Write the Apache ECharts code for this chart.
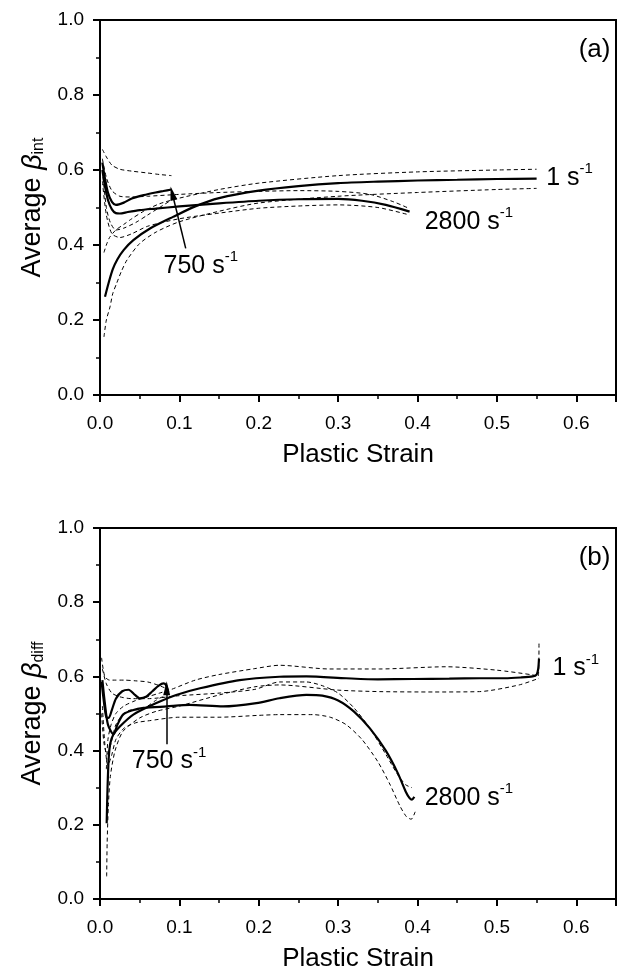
<!DOCTYPE html>
<html><head><meta charset="utf-8">
<script src="https://cdn.jsdelivr.net/npm/echarts@6/dist/echarts.min.js"></script>
<style>html,body{margin:0;padding:0;background:#fff}#c{width:619px;height:973px}</style>
</head><body><div id="c"></div>
<script>
// ---------- Panel (a): Average beta_int ----------
const a1sX = [0.0063,0.011,0.016,0.022,0.03,0.042,0.063,0.092,0.12,0.15,0.2,0.25,0.3,0.35,0.4,0.45,0.5,0.55];
const a1sY = [0.262,0.3,0.335,0.362,0.387,0.413,0.444,0.475,0.503,0.525,0.545,0.557,0.565,0.569,0.572,0.574,0.576,0.577];
const a1uX = [0.005,0.008,0.012,0.02,0.03,0.04,0.055,0.075,0.1,0.15,0.2,0.3,0.4,0.5,0.55];
const a1uY = [0.38,0.4,0.42,0.44,0.455,0.47,0.49,0.51,0.525,0.548,0.565,0.585,0.595,0.6,0.602];
const a1lX = [0.005,0.008,0.0126,0.016,0.021,0.027,0.034,0.05,0.071,0.10,0.15,0.2,0.3,0.4,0.5,0.55];
const a1lY = [0.155,0.2,0.235,0.27,0.298,0.33,0.36,0.404,0.435,0.462,0.49,0.512,0.53,0.54,0.548,0.551];

const a2sX = [0.003,0.006,0.01,0.015,0.02,0.025,0.035,0.05,0.07,0.1,0.15,0.2,0.25,0.3,0.33,0.36,0.39];
const a2sY = [0.6,0.56,0.52,0.495,0.485,0.484,0.488,0.493,0.497,0.503,0.511,0.518,0.522,0.523,0.518,0.507,0.489];
const a2uX = [0.003,0.008,0.015,0.025,0.04,0.06,0.1,0.15,0.2,0.25,0.3,0.34,0.37,0.39];
const a2uY = [0.63,0.58,0.545,0.53,0.528,0.53,0.535,0.54,0.543,0.545,0.543,0.535,0.515,0.497];
const a2lX = [0.003,0.008,0.015,0.025,0.04,0.06,0.1,0.15,0.2,0.25,0.3,0.35,0.39];
const a2lY = [0.57,0.48,0.43,0.42,0.43,0.45,0.47,0.485,0.498,0.504,0.507,0.5,0.48];

const a3sX = [0.003,0.006,0.01,0.015,0.02,0.03,0.04,0.055,0.07,0.08,0.09];
const a3sY = [0.62,0.58,0.54,0.515,0.507,0.513,0.524,0.533,0.54,0.544,0.548];
const a3uX = [0.003,0.008,0.015,0.025,0.04,0.06,0.075,0.09];
const a3uY = [0.655,0.635,0.613,0.602,0.597,0.592,0.588,0.585];
const a3lX = [0.003,0.008,0.013,0.02,0.03,0.045,0.06,0.075,0.09];
const a3lY = [0.6,0.5,0.46,0.44,0.445,0.46,0.48,0.5,0.52];

// ---------- Panel (b): Average beta_diff ----------
const b1sX = [0.0084,0.0095,0.011,0.013,0.017,0.025,0.042,0.071,0.096,0.126,0.176,0.226,0.26,0.31,0.35,0.394,0.44,0.478,0.51,0.53,0.545,0.55,0.552,0.553];
const b1sY = [0.204,0.3,0.381,0.42,0.444,0.465,0.497,0.528,0.55,0.568,0.59,0.599,0.6,0.595,0.592,0.593,0.594,0.595,0.595,0.597,0.6,0.605,0.62,0.648];
const b1uX = [0.008,0.01,0.014,0.02,0.03,0.045,0.06,0.075,0.09,0.12,0.15,0.195,0.226,0.289,0.352,0.436,0.499,0.545,0.552,0.553];
const b1uY = [0.35,0.43,0.47,0.5,0.52,0.535,0.545,0.555,0.565,0.59,0.605,0.621,0.63,0.62,0.62,0.626,0.617,0.604,0.6,0.693];
const b1lX = [0.0084,0.009,0.0105,0.013,0.019,0.029,0.05,0.071,0.1,0.15,0.195,0.226,0.3,0.352,0.42,0.478,0.528,0.553];
const b1lY = [0.061,0.15,0.25,0.33,0.4,0.452,0.488,0.506,0.52,0.55,0.572,0.577,0.563,0.559,0.558,0.559,0.577,0.595];

const b2sX = [0.003,0.006,0.01,0.017,0.022,0.029,0.04,0.055,0.084,0.113,0.155,0.197,0.226,0.26,0.28,0.30,0.32,0.34,0.36,0.375,0.385,0.39,0.393,0.396];
const b2sY = [0.59,0.53,0.47,0.444,0.47,0.497,0.508,0.515,0.519,0.523,0.519,0.528,0.541,0.55,0.548,0.535,0.505,0.46,0.4,0.34,0.29,0.272,0.268,0.275];
const b2uX = [0.003,0.008,0.015,0.025,0.04,0.06,0.1,0.15,0.195,0.226,0.26,0.28,0.30,0.32,0.34,0.36,0.375,0.385,0.393];
const b2uY = [0.62,0.58,0.555,0.545,0.54,0.54,0.548,0.555,0.565,0.585,0.585,0.575,0.555,0.515,0.46,0.39,0.335,0.308,0.3];
const b2lX = [0.003,0.006,0.01,0.015,0.02,0.03,0.045,0.06,0.1,0.15,0.2,0.226,0.268,0.29,0.31,0.33,0.35,0.365,0.378,0.386,0.392,0.397];
const b2lY = [0.52,0.42,0.36,0.39,0.43,0.46,0.475,0.48,0.49,0.49,0.495,0.497,0.497,0.49,0.47,0.43,0.37,0.31,0.25,0.222,0.215,0.235];

const b3sX = [0.002,0.005,0.008,0.011,0.015,0.02,0.028,0.036,0.044,0.05,0.058,0.066,0.074,0.08,0.083,0.086];
const b3sY = [0.585,0.53,0.49,0.488,0.51,0.54,0.56,0.564,0.55,0.541,0.545,0.56,0.575,0.581,0.577,0.558];
const b3uX = [0.002,0.006,0.012,0.02,0.03,0.045,0.06,0.075,0.086];
const b3uY = [0.65,0.6,0.59,0.59,0.59,0.588,0.585,0.575,0.565];
const b3lX = [0.002,0.005,0.009,0.014,0.02,0.03,0.04,0.05,0.06,0.07,0.08,0.086];
const b3lY = [0.5,0.42,0.39,0.42,0.47,0.5,0.51,0.51,0.52,0.535,0.545,0.54];

// tick labels / axis ranges
const xTicks = [0.0,0.1,0.2,0.3,0.4,0.5,0.6];
const yTicks = [0.0,0.2,0.4,0.6,0.8,1.0];
const xTitle = 'Plastic Strain';
const yTitleA = ['Average ', 'β', 'int'];
const yTitleB = ['Average ', 'β', 'diff'];

// annotations [x, y, text, sup]
const labelsA = [[0.562,0.584,'1 s','-1'],[0.409,0.467,'2800 s','-1'],[0.080,0.349,'750 s','-1']];
const labelsB = [[0.570,0.627,'1 s','-1'],[0.409,0.277,'2800 s','-1'],[0.040,0.376,'750 s','-1']];
const arrowA = [[0.108,0.391],[0.091,0.538]];
const arrowB = [[0.084,0.417],[0.084,0.568]];
const panelTags = ['(a)','(b)'];

const zip = (xs, ys) => xs.map((x,i)=>[x, ys[i]]);
const FONT = 'Liberation Sans, Arial, sans-serif';

function mkX(gi){
  return {gridIndex:gi, type:'value', min:0, max:0.65, interval:0.1,
    axisLine:{show:true, lineStyle:{color:'#000', width:2}},
    axisTick:{show:true, inside:false, length:7, lineStyle:{color:'#000', width:2}},
    minorTick:{show:true, splitNumber:2, length:4, lineStyle:{color:'#000', width:1.5}},
    splitLine:{show:false},
    axisLabel:{color:'#000', fontFamily:FONT, fontSize:19, margin:19,
      formatter:v => xTicks.some(t=>Math.abs(t-v)<1e-9) ? v.toFixed(1) : ''},
    name:xTitle, nameLocation:'middle', nameGap:47,
    nameTextStyle:{color:'#000', fontFamily:FONT, fontSize:26}};
}
function mkY(gi){
  return {gridIndex:gi, type:'value', min:0, max:1, interval:0.2,
    axisLine:{show:true, lineStyle:{color:'#000', width:2}},
    axisTick:{show:true, inside:false, length:7, lineStyle:{color:'#000', width:2}},
    minorTick:{show:true, splitNumber:2, length:4, lineStyle:{color:'#000', width:1.5}},
    splitLine:{show:false},
    axisLabel:{color:'#000', fontFamily:FONT, fontSize:19, margin:16,
      formatter:v => yTicks.some(t=>Math.abs(t-v)<1e-9) ? v.toFixed(1) : ''}};
}
function line(gi, xs, ys, dashed){
  return {type:'line', xAxisIndex:gi, yAxisIndex:gi, data:zip(xs,ys), showSymbol:false,
    smooth:0.25, silent:true,
    lineStyle: dashed ? {color:'#000', width:1, type:[4,3]} : {color:'#000', width:2.2}};
}
function arrowSeries(gi, arr){
  return {type:'line', xAxisIndex:gi, yAxisIndex:gi, data:[], silent:true,
    markLine:{silent:true, animation:false, symbol:['none','triangle'], symbolSize:[7,14],
      label:{show:false}, lineStyle:{color:'#000', width:1.5, type:'solid'},
      data:[[{coord:arr[0]},{coord:arr[1]}]]}};
}

const chart = echarts.init(document.getElementById('c'), null, {renderer:'canvas'});
chart.setOption({
  animation:false, backgroundColor:'#fff',
  grid:[
    {left:100, top:20, width:517, height:375, show:true, borderColor:'#000', borderWidth:2, backgroundColor:'transparent'},
    {left:100, top:528, width:517, height:375, show:true, borderColor:'#000', borderWidth:2, backgroundColor:'transparent'}
  ],
  xAxis:[mkX(0), mkX(1)],
  yAxis:[mkY(0), mkY(1)],
  series:[
    line(0,a1uX,a1uY,true), line(0,a1lX,a1lY,true),
    line(0,a2uX,a2uY,true), line(0,a2lX,a2lY,true),
    line(0,a3uX,a3uY,true), line(0,a3lX,a3lY,true),
    line(0,a1sX,a1sY,false), line(0,a2sX,a2sY,false), line(0,a3sX,a3sY,false),
    line(1,b1uX,b1uY,true), line(1,b1lX,b1lY,true),
    line(1,b2uX,b2uY,true), line(1,b2lX,b2lY,true),
    line(1,b3uX,b3uY,true), line(1,b3lX,b3lY,true),
    line(1,b1sX,b1sY,false), line(1,b2sX,b2sY,false), line(1,b3sX,b3sY,false),
    arrowSeries(0, arrowA), arrowSeries(1, arrowB)
  ]
});

const rich = {
  m:{fontFamily:FONT, fontSize:25, color:'#000', lineHeight:29, verticalAlign:'bottom'},
  up:{fontFamily:FONT, fontSize:15, color:'#000', lineHeight:29, verticalAlign:'top'},
  ym:{fontFamily:FONT, fontSize:27, color:'#000', lineHeight:31, verticalAlign:'bottom'},
  it:{fontFamily:FONT, fontSize:27, fontStyle:'italic', color:'#000', lineHeight:31, verticalAlign:'bottom'},
  sub:{fontFamily:FONT, fontSize:16, color:'#000', lineHeight:37, verticalAlign:'bottom'}
};
const g = [];
[[labelsA,0],[labelsB,1]].forEach(([labs,gi])=>{
  labs.forEach(l=>{
    const p = chart.convertToPixel({gridIndex:gi}, [l[0], l[1]]);
    g.push({type:'text', x:p[0], y:p[1], silent:true,
      style:{text:'{m|'+l[2]+'}{up|'+l[3]+'}', rich, align:'left', verticalAlign:'middle'}});
  });
  const tp = chart.convertToPixel({gridIndex:gi}, [0.623, 0.92]);
  g.push({type:'text', x:tp[0], y:tp[1], silent:true,
    style:{text:panelTags[gi], fontFamily:FONT, fontSize:26, fill:'#000', align:'center', verticalAlign:'middle'}});
  const t = gi===0 ? yTitleA : yTitleB;
  const cp = chart.convertToPixel({gridIndex:gi}, [0, 0.5]);
  g.push({type:'text', x:28, y:cp[1], rotation:Math.PI/2, silent:true,
    style:{text:'{ym|'+t[0]+'}{it|'+t[1]+'}{sub|'+t[2]+'}', rich, align:'center', verticalAlign:'middle'}});
});
chart.setOption({graphic:g});
</script>
</body></html>
